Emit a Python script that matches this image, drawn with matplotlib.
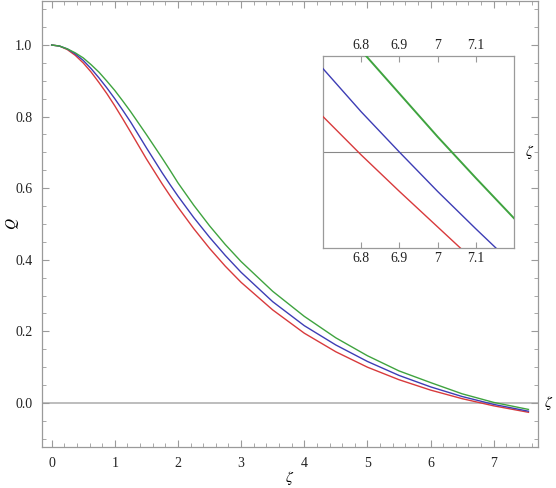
import matplotlib
matplotlib.use("Agg")
import matplotlib.pyplot as plt
from matplotlib.ticker import MultipleLocator, FixedLocator

# ---- data ----
zeta = [0.0, 0.125, 0.25, 0.375, 0.5, 0.625, 0.75, 0.875, 1.0, 1.125, 1.25,
        1.375, 1.5, 1.625, 1.75, 1.875, 2.0, 2.25, 2.5, 2.75,
        3.0, 3.5, 4.0, 4.5, 5.0, 5.5, 6.0, 6.5, 7.0, 7.55]
q_red = [1.000, 0.997, 0.987, 0.971, 0.950, 0.9245, 0.895, 0.864, 0.830, 0.794,
         0.757, 0.7195, 0.682, 0.647, 0.612, 0.579, 0.547, 0.487,
         0.432, 0.382, 0.337, 0.260, 0.195, 0.143, 0.100, 0.065, 0.036, 0.012,
         -0.008, -0.026]
q_blue = [1.000, 0.997, 0.989, 0.975, 0.957, 0.934, 0.908, 0.880, 0.850, 0.818,
          0.785, 0.749, 0.713, 0.678, 0.643, 0.610, 0.578, 0.518,
          0.463, 0.412, 0.365, 0.283, 0.216, 0.162, 0.116, 0.077, 0.045, 0.018,
          -0.004, -0.023]
q_green = [1.000, 0.997, 0.989, 0.978, 0.964, 0.945, 0.924, 0.899, 0.873, 0.844,
           0.814, 0.782, 0.750, 0.717, 0.684, 0.650, 0.615, 0.5525,
           0.495, 0.4425, 0.395, 0.312, 0.242, 0.182, 0.132, 0.0896, 0.057, 0.0256,
           0.0016, -0.018]

inset_zeta = [6.7, 6.8, 6.9, 7.0, 7.1, 7.2]
inset_red = [0.0037, -0.0003, -0.0041, -0.0078, -0.0115, -0.0150]
inset_blue = [0.0087, 0.0042, 0.0000, -0.0041, -0.0080, -0.0118]
inset_green = [0.0150, 0.0106, 0.0061, 0.0016, -0.0027, -0.0069]

x_major = [0, 1, 2, 3, 4, 5, 6, 7]
y_major = [0.0, 0.2, 0.4, 0.6, 0.8, 1.0]
y_labels = ["0.0", "0.2", "0.4", "0.6", "0.8", "1.0"]
inset_ticks = [6.8, 6.9, 7.0, 7.1]
inset_labels = ["6.8", "6.9", "7", "7.1"]

RED = "#d83a3c"
BLUE = "#3d3db5"
GREEN = "#3fa33f"
FRAME = "#9a9a9a"

plt.rcParams["font.family"] = ["Liberation Serif", "DejaVu Serif"]
plt.rcParams["mathtext.fontset"] = "stix"

fig = plt.figure(figsize=(5.56, 4.88), dpi=100)
ax = fig.add_axes([0.0755, 0.084, 0.892, 0.914])

ax.axhline(0, color="#b8b8b8", lw=1.3, zorder=1)
ax.plot(zeta, q_red, color=RED, lw=1.0, zorder=3)
ax.plot(zeta, q_blue, color=BLUE, lw=1.0, zorder=3)
ax.plot(zeta, q_green, color=GREEN, lw=1.0, zorder=3)

ax.set_xlim(-0.153, 7.70)
ax.set_ylim(-0.123, 1.123)
ax.xaxis.set_major_locator(FixedLocator(x_major))
ax.xaxis.set_minor_locator(MultipleLocator(0.2))
ax.yaxis.set_major_locator(FixedLocator(y_major))
ax.yaxis.set_minor_locator(MultipleLocator(0.05))
ax.set_yticklabels(y_labels)
ax.set_xticklabels([str(v) for v in x_major])
ax.tick_params(which="both", direction="in", top=True, right=True,
               color=FRAME, labelsize=10, labelcolor="#222222")
ax.tick_params(which="major", length=5, width=0.8)
ax.tick_params(which="minor", length=2.8, width=0.6)
ax.tick_params(axis="x", pad=7)
ax.tick_params(axis="y", pad=7)
for s in ax.spines.values():
    s.set_color(FRAME)
    s.set_linewidth(0.9)

ax.set_xlabel(r"$\zeta$", fontsize=11)
ax.set_ylabel(r"$Q$", fontsize=11)
ax.xaxis.set_label_coords(0.5, -0.07)
ax.yaxis.set_label_coords(-0.06, 0.5)
ax.xaxis.label.set_va("center")
ax.yaxis.label.set_va("center")
ax.text(1.012, 0.0, r"$\zeta$", transform=ax.get_yaxis_transform(),
        fontsize=11, va="center", ha="left")

# ---- inset ----
axi = fig.add_axes([0.581, 0.4918, 0.3435, 0.393])
axi.axhline(0, color="#888888", lw=0.8, zorder=1)
axi.plot(inset_zeta, inset_red, color=RED, lw=1.0, zorder=3)
axi.plot(inset_zeta, inset_blue, color=BLUE, lw=1.0, zorder=3)
axi.plot(inset_zeta, inset_green, color=GREEN, lw=1.4, zorder=3)
axi.set_xlim(6.7, 7.2)
axi.set_ylim(-0.01, 0.01)
axi.xaxis.set_major_locator(FixedLocator(inset_ticks))
axi.set_xticklabels(inset_labels)
axi.set_yticks([])
axi.tick_params(axis="x", which="both", direction="in", top=True, bottom=True,
                labeltop=True, labelbottom=True, color=FRAME, length=4,
                width=0.8, labelsize=10, pad=3, labelcolor="#222222")
for s in axi.spines.values():
    s.set_color(FRAME)
    s.set_linewidth(0.9)
axi.text(1.055, 0.0, r"$\zeta$", transform=axi.get_yaxis_transform(),
         fontsize=11, va="center", ha="left")

fig.savefig("out.png", dpi=100)
